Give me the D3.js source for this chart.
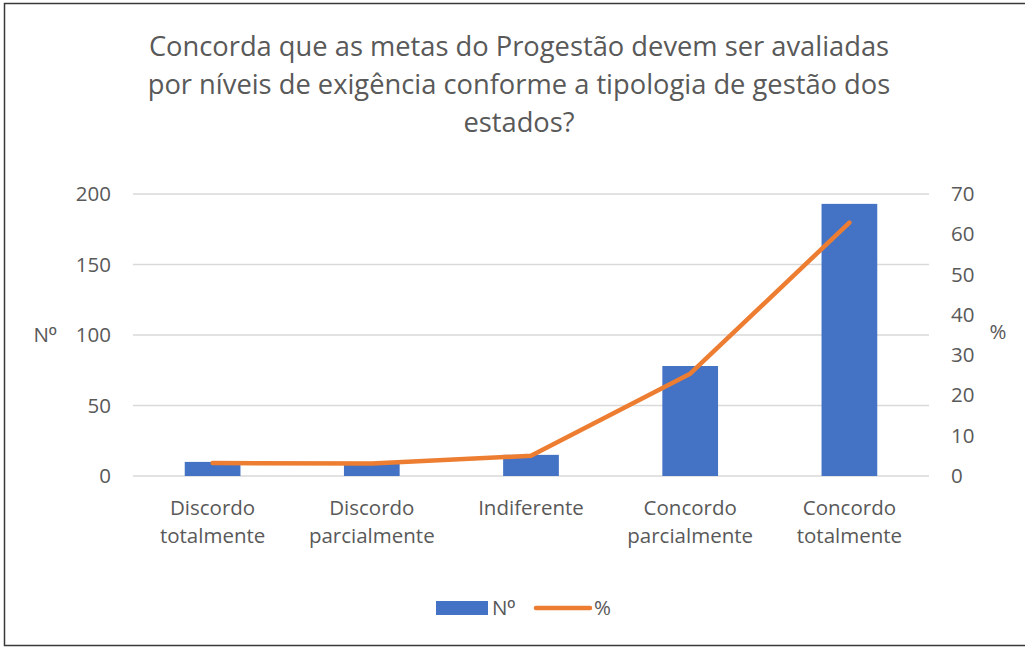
<!DOCTYPE html>
<html>
<head>
<meta charset="utf-8">
<script src="https://cdn.jsdelivr.net/npm/d3@7"></script>
<style>
  body { margin: 0; background: #fff; }
  svg text { font-family: "Open Sans", "Noto Sans", sans-serif; fill: #595959; }
</style>
</head>
<body>
<svg id="chart"></svg>
<script>
// data
const categories = [["Discordo", "totalmente"], ["Discordo", "parcialmente"], ["Indiferente"], ["Concordo", "parcialmente"], ["Concordo", "totalmente"]];
const counts = [10, 9, 15, 78, 193];
const percents = [3.2, 3.1, 5.0, 25.4, 62.9];
const leftTicks = [0, 50, 100, 150, 200];
const rightTicks = [0, 10, 20, 30, 40, 50, 60, 70];
const titleLines = ["Concorda que as metas do Progestão devem ser avaliadas", "por níveis de exigência conforme a tipologia de gestão dos", "estados?"];

const [w, h] = [1025, 649];
const plot = {left: 133, right: 929, top: 194, bottom: 476};
const fs = "20.5px";

const svg = d3.select("#chart").attr("width", w).attr("height", h);

// outer frame
svg.append("rect").attr("x", 4.5).attr("y", 3.5).attr("width", w + 10).attr("height", 642)
  .attr("fill", "#fff").attr("stroke", "#3a3a3a").attr("stroke-width", 1.5);

// title
svg.append("g").selectAll("text").data(titleLines).enter().append("text")
  .attr("x", 519).attr("y", (d, i) => 56 + i * 38)
  .attr("text-anchor", "middle").style("font-size", "27.3px")
  .text(d => d);

const idx = categories.map((d, i) => i);
const xScale = d3.scaleBand().domain(idx).range([plot.left, plot.right]).paddingInner(0.65).paddingOuter(0.325);
const yLeft = d3.scaleLinear().domain([0, 200]).range([plot.bottom, plot.top]);
const yRight = d3.scaleLinear().domain([0, 70]).range([plot.bottom, plot.top]);

//gridlines
svg.append("g").selectAll("line").data(leftTicks).enter().append("line")
  .attr("x1", plot.left).attr("x2", plot.right)
  .attr("y1", d => yLeft(d)).attr("y2", d => yLeft(d))
  .attr("stroke", "#d9d9d9").attr("stroke-width", 1.3);

// axes (labels only)
const leftAxis = svg.append("g").attr("transform", `translate(${plot.left - 22}, 0)`)
  .call(d3.axisLeft(yLeft).tickValues(leftTicks).tickSize(0).tickPadding(0));
const rightAxis = svg.append("g").attr("transform", `translate(${plot.right + 22}, 0)`)
  .call(d3.axisRight(yRight).tickValues(rightTicks).tickSize(0).tickPadding(0));
[leftAxis, rightAxis].forEach(a => {
  a.select(".domain").remove();
  a.selectAll("text").attr("font-family", null).style("font-size", fs).attr("fill", "#595959");
});

// "Nº" - Liberation Sans draws the ordinal with its bar underneath
function numLabel(sel) {
  sel.append("tspan").text("N");
  sel.append("tspan").style("font-family", "'Liberation Sans', Arial, sans-serif").text("º");
}
svg.append("text").attr("x", 45).attr("y", 342).attr("text-anchor", "middle").style("font-size", fs).call(numLabel);
svg.append("text").attr("x", 998).attr("y", 339).attr("text-anchor", "middle").style("font-size", fs).text("%");

// bars
svg.append("g").selectAll("rect").data(counts).enter().append("rect")
  .attr("x", (d, i) => xScale(i)).attr("width", xScale.bandwidth())
  .attr("y", d => yLeft(d)).attr("height", d => yLeft(0) - yLeft(d))
  .attr("fill", "#4472c4");

// line
const line = d3.line().x((d, i) => xScale(i) + xScale.bandwidth() / 2).y(d => yRight(d));
svg.append("path").datum(percents).attr("d", line)
  .attr("fill", "none").attr("stroke", "#ed7d31").attr("stroke-width", 4.5)
  .attr("stroke-linecap", "round").attr("stroke-linejoin", "round");

// category labels
const cat = svg.append("g").selectAll("text").data(categories).enter().append("text")
  .attr("text-anchor", "middle").style("font-size", fs)
  .attr("x", (d, i) => xScale(i) + xScale.bandwidth() / 2).attr("y", 515);
cat.selectAll("tspan").data(d => d).enter().append("tspan")
  .attr("x", function () { return this.parentNode.getAttribute("x"); })
  .attr("dy", (d, i) => i === 0 ? 0 : 28).text(d => d);

// legend
const lg = svg.append("g");
lg.append("rect").attr("x", 436).attr("y", 601).attr("width", 52).attr("height", 14).attr("fill", "#4472c4");
lg.append("text").attr("x", 492).attr("y", 615).style("font-size", fs).call(numLabel);
lg.append("line").attr("x1", 536).attr("x2", 590).attr("y1", 608).attr("y2", 608)
  .attr("stroke", "#ed7d31").attr("stroke-width", 4.5).attr("stroke-linecap", "round");
lg.append("text").attr("x", 594).attr("y", 615).style("font-size", fs).text("%");
</script>
</body>
</html>
